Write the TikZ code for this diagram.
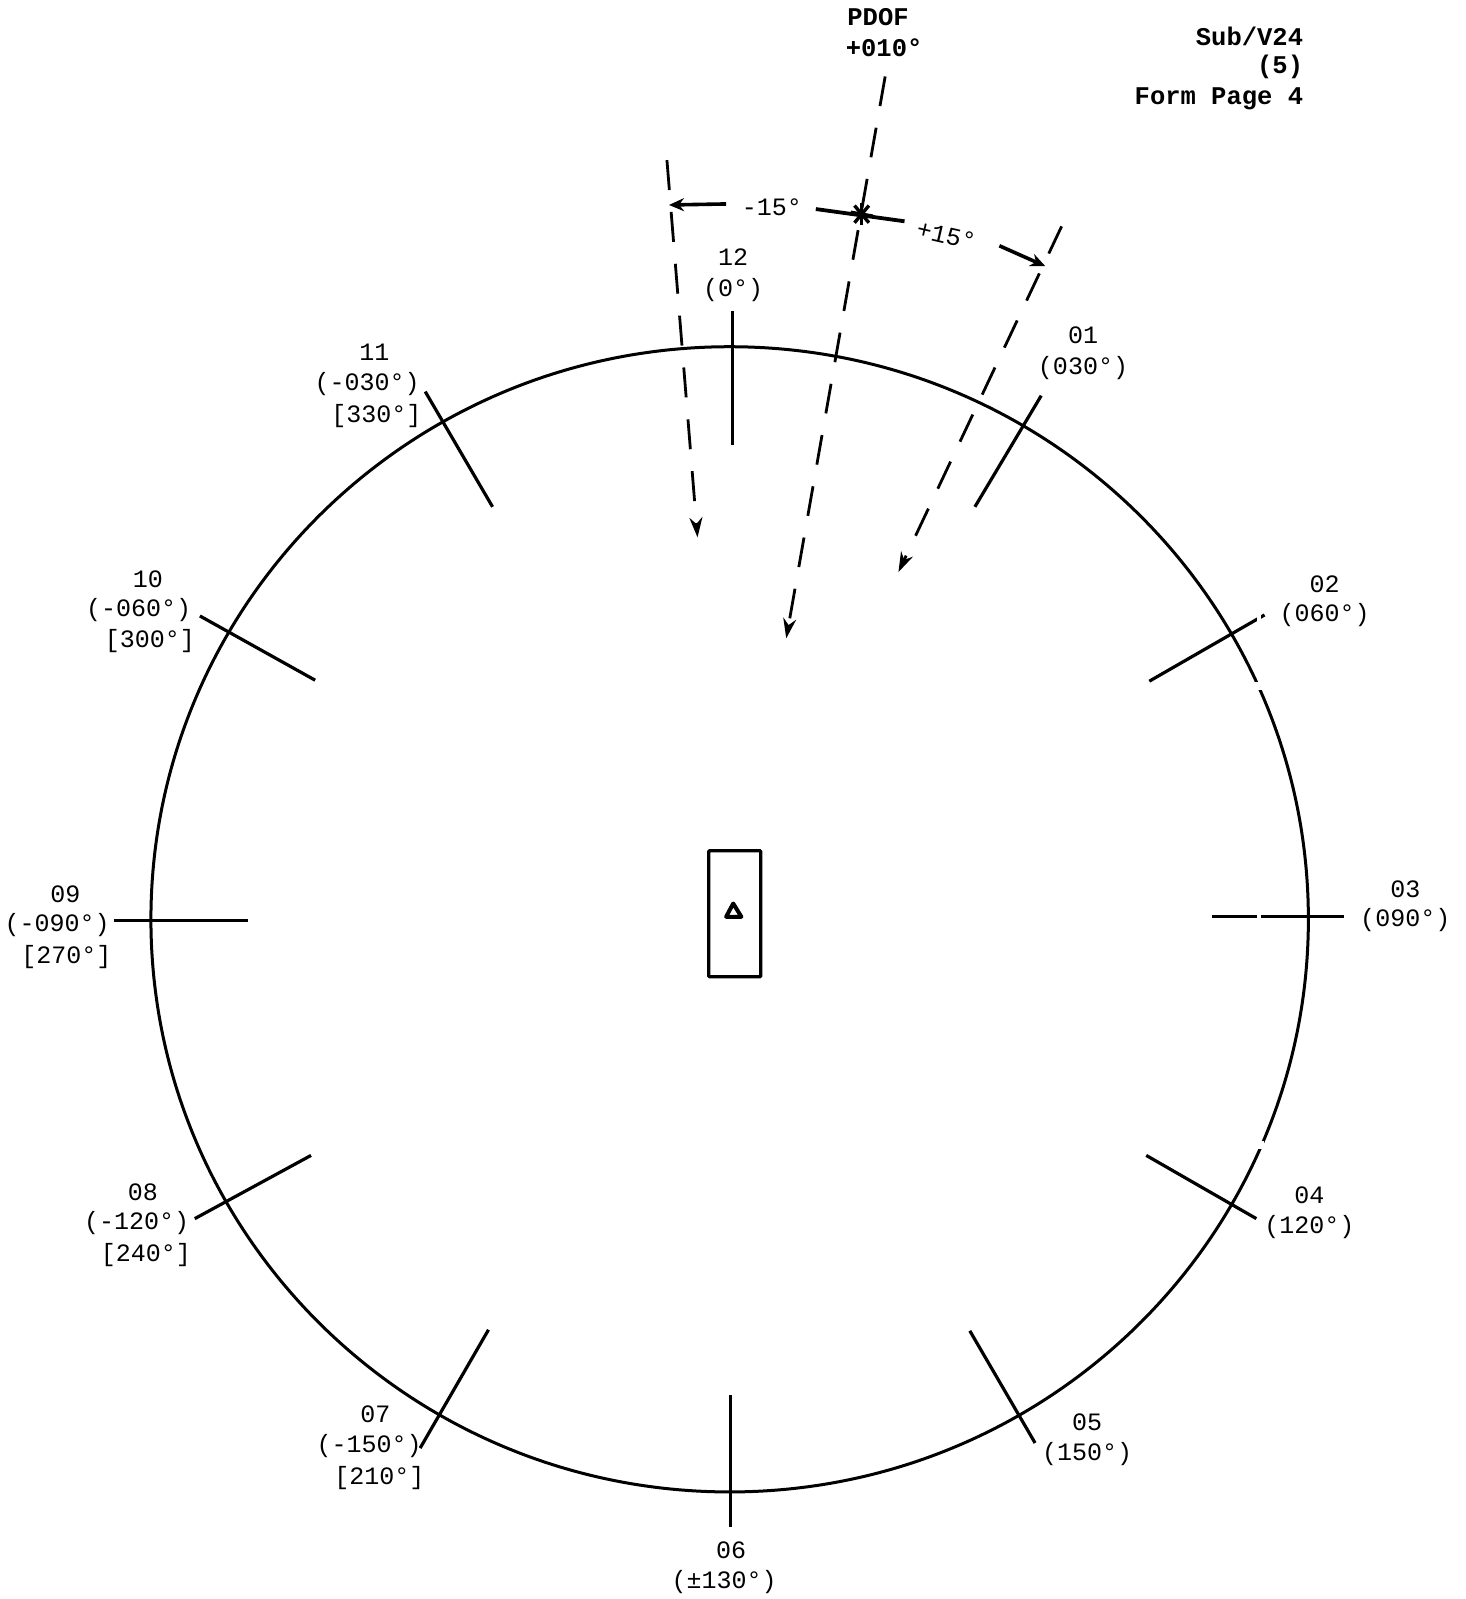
\documentclass[tikz,border=0pt]{standalone}
\usepackage{fontspec}
\setmainfont{Liberation Mono}
\usetikzlibrary{arrows.meta}
\tikzset{
 tick/.style={line width=3.2pt},
 dashline/.style={line width=2.8pt,dash pattern=on 30pt off 22pt,-{Stealth[length=20pt,width=13pt]}},
 dim/.style={line width=3.6pt,-{Stealth[length=15pt,width=13pt]}},
 dimp/.style={line width=3.8pt},
 lab/.style={font=\fontsize{25}{27}\selectfont,inner sep=0pt,anchor=center},
 labr/.style={font=\bfseries\fontsize{25.5}{27}\selectfont,inner sep=0pt,anchor=east},
 labb/.style={font=\bfseries\fontsize{25.5}{27}\selectfont,inner sep=0pt,anchor=center},
 scanflaw/.style={fill=white,draw=none},
}
\begin{document}
\begin{tikzpicture}[x=1.0195pt,y=-1.0195pt]
\useasboundingbox (0,0) rectangle (1437,1568);
\fill[white] (0,0) rectangle (1437,1568);
% circle
\draw[line width=3pt] (715.5,901.5) ellipse [x radius=567.5,y radius=561.5];
% ticks
\foreach \n/\ax/\ay/\bx/\by in {a/718/305/718/436,b/1021/388/956/497,c/1240/603/1127/668,d/1188/899/1318/899,e/1124/1133/1232/1195,f/951/1305/1015/1415,g/716/1368/716/1497,h/479/1304/412/1420,i/305/1133/191/1195,j/112/903/243/903,k/196/604/309/667,l/417/384/483/497}{
 \coordinate (t\n1) at (\ax,\ay); \coordinate (t\n2) at (\bx,\by);
 \draw[tick] (t\n1) -- (t\n2);
}
% scan flaws along one vertical strip
\fill[scanflaw] (1233,598) rectangle (1237,612);
\fill[scanflaw] (1231,669) rectangle (1239,677);
\fill[scanflaw] (1233,893) rectangle (1237,905);
\fill[scanflaw] (1231,1119) rectangle (1239,1127);
% vehicle
\node[draw,line width=3.4pt,rounded corners=1pt,minimum width=52pt,minimum height=126pt,inner sep=0pt] (veh) at (720.5,896) {};
\coordinate (tr1) at (719,886); \coordinate (tr2) at (727,899); \coordinate (tr3) at (712,899);
\draw[line width=4pt,line join=round] (tr1) -- (tr2) -- (tr3) -- cycle;
% PDOF lines
\coordinate (p1) at (868,75); \coordinate (p2) at (771,626);
\coordinate (q1) at (654,157); \coordinate (q2) at (684,527);
\coordinate (r1) at (1041,222); \coordinate (r2) at (881,561);
\draw[dashline] (p1) -- (p2);
\draw[dashline] (q1) -- (q2);
\draw[dashline] (r1) -- (r2);
% dimension arrows
\coordinate (s) at (845,210);
\coordinate (d1) at (712,200); \coordinate (d2) at (656,201);
\coordinate (d3) at (800,205); \coordinate (d4) at (887,217);
\coordinate (d5) at (980,241); \coordinate (d6) at (1025,261);
\draw[dim] (d1) -- (d2);
\draw[dimp] (d3) -- (d4);
\draw[dim] (d5) -- (d6);
\foreach \a in {10,50,90,130}{\draw[line width=3.4pt] (s) ++(\a:11) -- ++(\a+180:22);}
% labels
\node[labb] (n1) at (861,17) {PDOF};
\node[labb] (n2) at (867,47) {+010°};
\node[labr] (n3) at (1278,36) {Sub/V24};
\node[labr] (n4) at (1278,66) {(5)};
\node[labr] (n5) at (1278,97) {Form Page 4};
\node[lab] (n6) at (757,203) {-15°};
\node[lab,rotate=-13] (n7) at (928,231) {+15°};
\node[lab] (c12a) at (719,252) {12};
\node[lab] (c12b) at (719,284) {(0°)};
\node[lab] (c1a) at (1062,329) {01};
\node[lab] (c1b) at (1062,361) {(030°)};
\node[lab] (c2a) at (1299,573) {02};
\node[lab] (c2b) at (1299,603) {(060°)};
\node[lab] (c3a) at (1378,872) {03};
\node[lab] (c3b) at (1378,902) {(090°)};
\node[lab] (c4a) at (1284,1172) {04};
\node[lab] (c4b) at (1284,1203) {(120°)};
\node[lab] (c5a) at (1066,1395) {05};
\node[lab] (c5b) at (1066,1426) {(150°)};
\node[lab] (c6a) at (717,1520) {06};
\node[lab] (c6b) at (710,1551) {(±130°)};
\node[lab] (c7a) at (368,1387) {07};
\node[lab] (c7b) at (362,1418) {(-150°)};
\node[lab] (c7c) at (372,1449) {[210°]};
\node[lab] (c8a) at (140,1169) {08};
\node[lab] (c8b) at (134,1199) {(-120°)};
\node[lab] (c8c) at (143,1231) {[240°]};
\node[lab] (c9a) at (64,877) {09};
\node[lab] (c9b) at (56,907) {(-090°)};
\node[lab] (c9c) at (65,938) {[270°]};
\node[lab] (c10a) at (145,568) {10};
\node[lab] (c10b) at (136,598) {(-060°)};
\node[lab] (c10c) at (147,629) {[300°]};
\node[lab] (c11a) at (367,345) {11};
\node[lab] (c11b) at (360,377) {(-030°)};
\node[lab] (c11c) at (369,408) {[330°]};
\end{tikzpicture}
\end{document}
